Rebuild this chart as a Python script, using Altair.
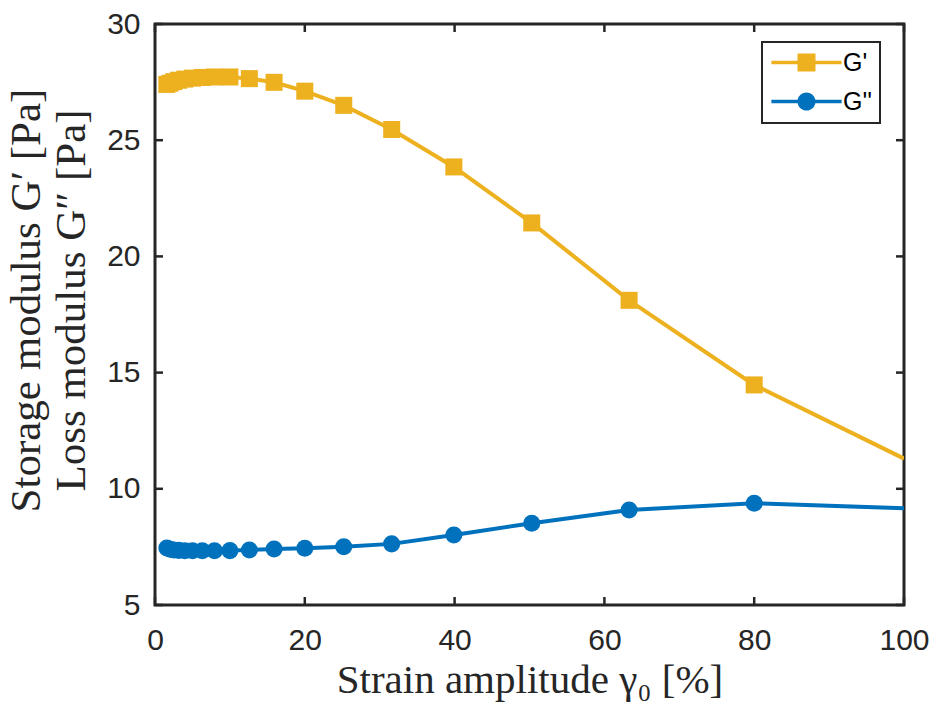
import altair as alt
import pandas as pd

# ---- data ----
strain = [1.58, 2.0, 2.51, 3.16, 3.98, 5.01, 6.31, 7.94, 10.0, 12.6, 15.9, 20.0,
          25.2, 31.6, 39.9, 50.3, 63.3, 80.0, 100.0]
g_storage = [27.40, 27.45, 27.52, 27.58, 27.63, 27.67, 27.70, 27.72, 27.72, 27.65,
             27.49, 27.11, 26.50, 25.46, 23.85, 21.44, 18.11, 14.47, 11.30]
g_loss = [7.45, 7.40, 7.37, 7.35, 7.33, 7.33, 7.33, 7.33, 7.34, 7.37,
          7.41, 7.44, 7.51, 7.63, 8.01, 8.52, 9.09, 9.38, 9.16]
series_names = ["G'", "G''"]
series_colors = ["#EDB120", "#0072BD"]
x_ticks = [0, 20, 40, 60, 80, 100]
y_ticks = [5, 10, 15, 20, 25, 30]

W, H = 749, 581
INK = "#262626"

df = pd.DataFrame({
    "x": strain * 2,
    "y": g_storage + g_loss,
    "s": [series_names[0]] * len(strain) + [series_names[1]] * len(strain),
})
xt = pd.DataFrame({"x": x_ticks})
yt = pd.DataFrame({"y": y_ticks})

xscale = alt.Scale(domain=[0, 100], nice=False, zero=False)
yscale = alt.Scale(domain=[5, 30], nice=False, zero=False)
cscale = alt.Scale(domain=series_names, range=series_colors)

# legend glyphs: line segment with marker in the middle
path_sq = ("M-3.9,-0.19L-1,-0.19L-1,-1L1,-1L1,-0.19L3.9,-0.19L3.9,0.19"
           "L1,0.19L1,1L-1,1L-1,0.19L-3.9,0.19Z")
path_ci = ("M-3.9,-0.19L-0.982,-0.19A1,1,0,0,1,0.982,-0.19L3.9,-0.19L3.9,0.19"
           "L0.982,0.19A1,1,0,0,1,-0.982,0.19L-3.9,0.19Z")
lscale = alt.Scale(domain=series_names, range=[path_sq, path_ci])

xaxis = alt.Axis(values=x_ticks, title="Strain amplitude γ₀ [%]",
                 labelPadding=20, titleY=87, titleX=W / 2,
                 titleBaseline="alphabetic")
yaxis = alt.Axis(values=y_ticks,
                 title=["Storage modulus G′ [Pa]", "Loss modulus G″ [Pa]"],
                 labelPadding=15, titleX=-116, titleY=276, titleFontSize=43,
                 titleBaseline="alphabetic", titleLineHeight=45)

leg = alt.Legend(
    title=None, orient="none", legendX=607, legendY=18,
    symbolSize=324, symbolStrokeWidth=0, symbolOffset=24, labelOffset=24,
    labelFont="Liberation Sans", labelFontSize=25, labelColor="#000000",
    rowPadding=13, padding=8, strokeColor=INK, fillColor="white",
)

X = alt.X("x:Q", scale=xscale, axis=xaxis)
Y = alt.Y("y:Q", scale=yscale, axis=yaxis)
C = alt.Color("s:N", scale=cscale, legend=leg)

base = alt.Chart(df)

lines = base.mark_line(strokeWidth=4, clip=True).encode(
    x=X, y=Y, color=C, detail="s:N",
)

points_sq = base.transform_filter(
    "datum.s == \"G'\" && datum.x < 100"
).mark_point(shape="square", filled=True, size=290, opacity=1, clip=True).encode(
    x=X, y=Y, color=C,
)
points_ci = base.transform_filter(
    "datum.s == \"G''\" && datum.x < 100"
).mark_point(shape="circle", filled=True, size=290, opacity=1, clip=True).encode(
    x=X, y=Y, color=C,
)

legend_layer = base.transform_filter("false").mark_point(
    filled=True, size=324, opacity=1
).encode(
    x=X, y=Y, color=C,
    shape=alt.Shape("s:N", scale=lscale, legend=leg),
)

tick_x_bottom = alt.Chart(xt).mark_rule(color=INK, strokeWidth=2.5).encode(
    x=X, y=alt.value(H), y2=alt.value(H - 8))
tick_x_top = alt.Chart(xt).mark_rule(color=INK, strokeWidth=2.5).encode(
    x=X, y=alt.value(0), y2=alt.value(8))
tick_y_left = alt.Chart(yt).mark_rule(color=INK, strokeWidth=2.5).encode(
    y=Y, x=alt.value(0), x2=alt.value(8))
tick_y_right = alt.Chart(yt).mark_rule(color=INK, strokeWidth=2.5).encode(
    y=Y, x=alt.value(W), x2=alt.value(W - 8))

chart = alt.layer(
    lines, points_sq, points_ci, legend_layer,
    tick_x_bottom, tick_x_top, tick_y_left, tick_y_right
).properties(
    width=W, height=H,
    padding={"left": 155, "top": 24, "right": 29, "bottom": 97},
    autosize=alt.AutoSizeParams(type="none"),
    background="white",
).configure_view(
    stroke=INK, strokeWidth=3
).configure_axis(
    grid=False, domain=False, ticks=False, labelFlush=False, labelOverlap=False,
    labelFont="Liberation Sans", labelFontSize=30, labelColor=INK,
    titleFont="Liberation Serif", titleFontSize=41, titleFontWeight="normal",
    titleColor=INK,
).configure_legend(
    strokeWidth=2,
)

chart.save("out.html", embed_options={"renderer": "svg", "actions": False})
